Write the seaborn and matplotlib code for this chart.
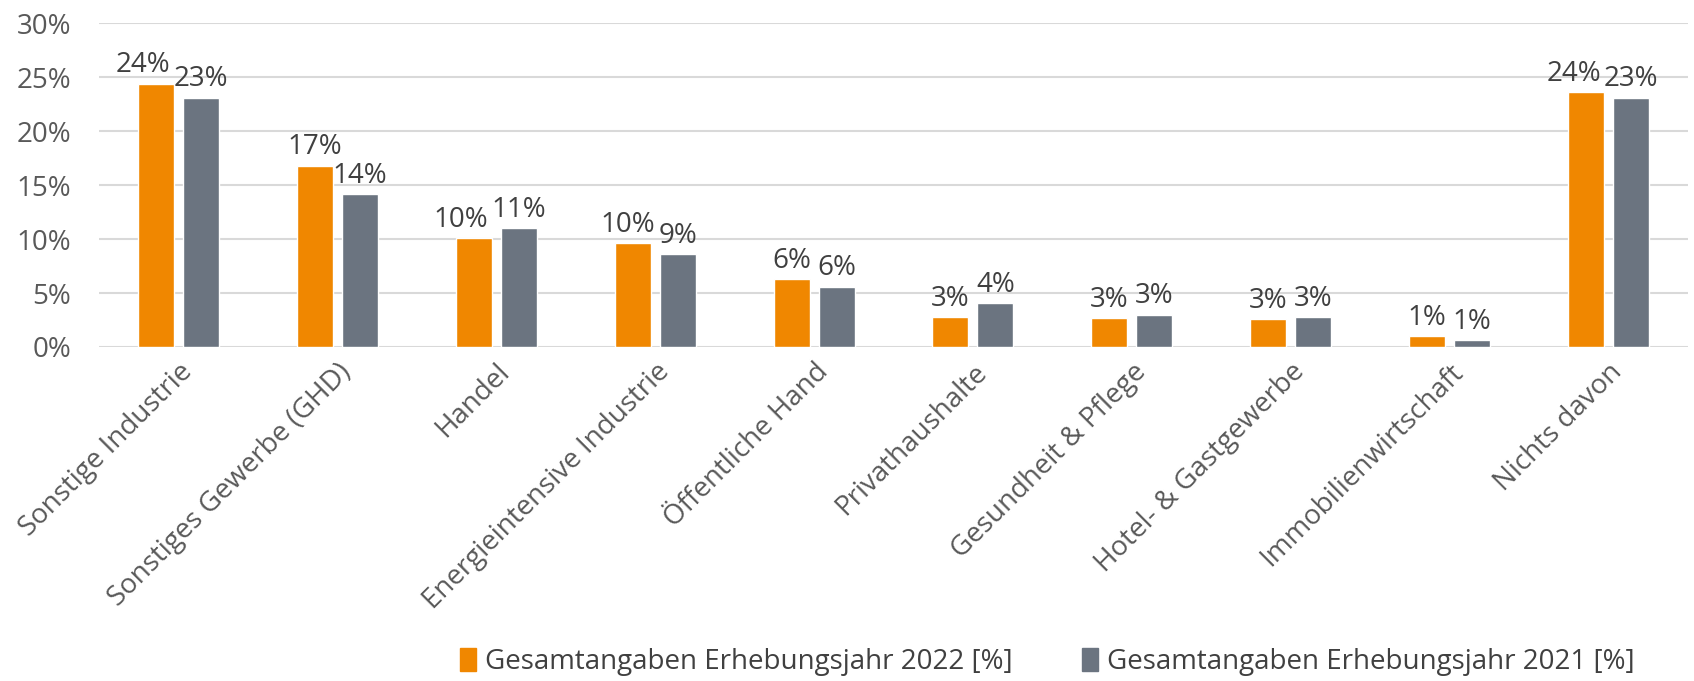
import numpy as np
import pandas as pd
import matplotlib
matplotlib.use("Agg")
import matplotlib.pyplot as plt
import seaborn as sns

# Data
kategorien = ["Sonstige Industrie", "Sonstiges Gewerbe (GHD)", "Handel",
              "Energieintensive Industrie", "Öffentliche Hand", "Privathaushalte",
              "Gesundheit & Pflege", "Hotel- & Gastgewerbe", "Immobilienwirtschaft",
              "Nichts davon"]
werte_2022 = [24.4, 16.8, 10.1, 9.6, 6.3, 2.8, 2.7, 2.6, 1.0, 23.6]
werte_2021 = [23.1, 14.2, 11.0, 8.6, 5.6, 4.1, 3.0, 2.8, 0.6, 23.1]
serien = ["Gesamtangaben Erhebungsjahr 2022 [%]", "Gesamtangaben Erhebungsjahr 2021 [%]"]
farben = ["#F08700", "#6B7480"]

df = pd.DataFrame({
    "Kategorie": kategorien * 2,
    "Wert": werte_2022 + werte_2021,
    "Serie": [serien[0]] * len(kategorien) + [serien[1]] * len(kategorien),
})

sns.set_theme(style="white")
plt.rcParams["font.family"] = ["Open Sans", "DejaVu Sans"]

fig = plt.figure(figsize=(16.94, 6.81), dpi=100)
ax = fig.add_axes([0.0584, 0.4905, 0.9381, 0.4755])

sns.barplot(data=df, x="Kategorie", y="Wert", hue="Serie", palette=farben,
            width=0.566, gap=0.2, saturation=1, ax=ax, legend=False)

# Data labels
label_sets = []
for cont in ax.containers:
    labels = [f"{round(v.get_height())}%" for v in cont]
    label_sets.append(ax.bar_label(cont, labels=labels, padding=3, fontsize=20,
                                   color="#404040"))

ax.set_ylim(0, 30)
ax.set_yticks(np.arange(0, 31, 5))
ax.set_yticklabels([f"{t}%" for t in range(0, 31, 5)], fontsize=20, color="#595959")
ax.yaxis.grid(True, color="#D9D9D9", linewidth=1.5)
ax.set_axisbelow(True)
ax.set_xlabel("")
ax.set_ylabel("")
ax.tick_params(axis="x", length=0, pad=8)
ax.tick_params(axis="y", length=0, pad=20)
ax.set_xticks(range(len(kategorien)))
ax.set_xticklabels(kategorien, rotation=45, ha="right", rotation_mode="anchor",
                   fontsize=20, color="#595959")
ax.set_xlim(-0.5, len(kategorien) - 0.5)
sns.despine(ax=ax, left=True, bottom=True)

# Push the 2022 label to the left when it collides with the 2021 label
fig.canvas.draw()
renderer = fig.canvas.get_renderer()
for t22, t21 in zip(label_sets[0], label_sets[1]):
    b22 = t22.get_window_extent(renderer)
    b21 = t21.get_window_extent(renderer)
    if b22.overlaps(b21):
        shift = b22.x1 - b21.x0 + 3
        ox, oy = t22.xyann
        t22.xyann = (ox - shift * 72 / fig.dpi, oy)

# Legend at the bottom
handles = [plt.Rectangle((0, 0), 1, 1, color=c) for c in farben]
fig.legend(handles, serien, loc="center", bbox_to_anchor=(0.618, 0.028), ncol=2,
           frameon=False, fontsize=20, handlelength=0.6, handleheight=0.9,
           handletextpad=0.3, columnspacing=2.5, labelcolor="#404040")

fig.savefig("out.png", dpi=100)
